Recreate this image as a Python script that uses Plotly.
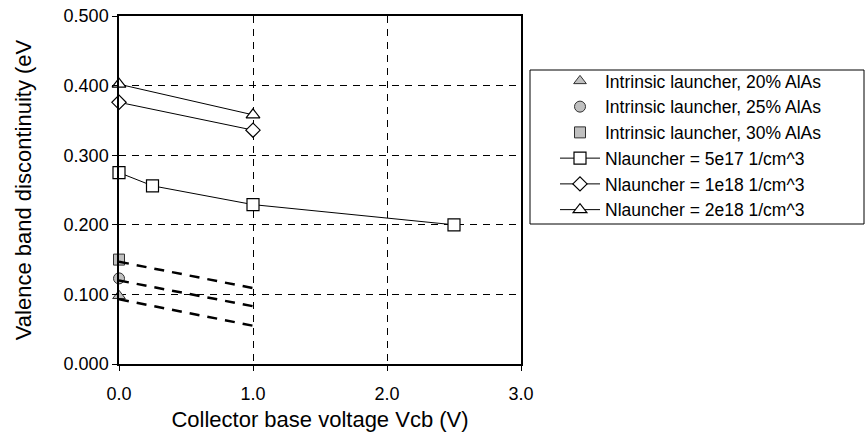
import plotly.graph_objects as go

# Intrinsic launcher points (x = Vcb, y = dEv)
intr_names = ["Intrinsic launcher, 20% AlAs", "Intrinsic launcher, 25% AlAs", "Intrinsic launcher, 30% AlAs"]
intr_x = [0.0]
intr_20 = [0.098]
intr_25 = [0.123]
intr_30 = [0.150]

# Dashed trend lines for intrinsic launchers
dash_x = [0.0, 1.0]
dash_20 = [0.093, 0.055]
dash_25 = [0.120, 0.083]
dash_30 = [0.147, 0.109]

# Doped launcher series
n5e17_x = [0.0, 0.25, 1.0, 2.5]
n5e17_y = [0.275, 0.256, 0.229, 0.200]
n1e18_x = [0.0, 1.0]
n1e18_y = [0.376, 0.336]
n2e18_x = [0.0, 1.0]
n2e18_y = [0.402, 0.358]

doped_names = ["Nlauncher = 5e17 1/cm^3", "Nlauncher = 1e18 1/cm^3", "Nlauncher = 2e18 1/cm^3"]

x_ticks = [0, 1, 2, 3]
y_ticks = [0.0, 0.1, 0.2, 0.3, 0.4, 0.5]

FONT = "Liberation Sans, Arial, sans-serif"
GRAY = "#c0c0c0"

fig = go.Figure()

for name, y, sym in zip(intr_names, [intr_20, intr_25, intr_30], ["triangle-up", "circle", "square"]):
    fig.add_trace(go.Scatter(
        x=intr_x, y=y, name=name, mode="markers", cliponaxis=False,
        marker=dict(symbol=sym, size=11, color=GRAY, line=dict(color="#303030", width=1)),
    ))

for (xs, ys, name, sym, sz) in [
    (n5e17_x, n5e17_y, doped_names[0], "square", 12),
    (n1e18_x, n1e18_y, doped_names[1], "diamond", 11),
    (n2e18_x, n2e18_y, doped_names[2], "triangle-up", 12),
]:
    fig.add_trace(go.Scatter(
        x=xs, y=ys, name=name, mode="lines+markers", cliponaxis=False,
        line=dict(color="black", width=1),
        marker=dict(symbol=sym, size=sz, color="white", line=dict(color="black", width=1.2)),
    ))

for ys in [dash_20, dash_25, dash_30]:
    fig.add_trace(go.Scatter(
        x=dash_x, y=ys, mode="lines", showlegend=False, cliponaxis=False,
        line=dict(color="black", width=2.5, dash="10px,8px"),
    ))

L, R, T, B = 119, 344, 16, 71
pw = 865 - L - R
ph = 435 - T - B

def px_x(p):
    return (p - L) / pw

def px_y(p):
    return (435 - B - p) / ph

fig.update_layout(
    width=865, height=435,
    margin=dict(l=L, r=R, t=T, b=B, pad=0, autoexpand=False),
    paper_bgcolor="white", plot_bgcolor="white",
    font=dict(family=FONT, color="black", size=18),
    showlegend=True,
    legend=dict(
        x=px_x(555), y=px_y(63), xanchor="left", yanchor="top",
        font=dict(family=FONT, size=17.5, color="black"),
        bgcolor="rgba(0,0,0,0)", borderwidth=0,
        tracegroupgap=0, itemwidth=40,
    ),
    xaxis=dict(
        range=[0, 3], tickvals=x_ticks, tickformat=".1f",
        automargin=False,
        showline=True, linecolor="black", linewidth=1.5, mirror=True,
        ticks="outside", ticklen=5, tickcolor="black", tickwidth=1,
        ticklabelstandoff=8,
        showgrid=True, gridcolor="black", gridwidth=1, griddash="7px,6px",
        zeroline=False,
        tickfont=dict(family=FONT, size=18, color="black"),
        title=dict(text="Collector base voltage Vcb (V)", font=dict(family=FONT, size=22, color="black"), standoff=8),
    ),
    yaxis=dict(
        range=[0, 0.5], tickvals=y_ticks, tickformat=".3f",
        automargin=False,
        showline=True, linecolor="black", linewidth=1.5, mirror=True,
        ticks="outside", ticklen=5, tickcolor="black", tickwidth=1,
        showgrid=True, gridcolor="black", gridwidth=1, griddash="7px,6px",
        zeroline=False,
        tickfont=dict(family=FONT, size=18, color="black"),
        title=dict(text="Valence band discontinuity (eV", font=dict(family=FONT, size=22, color="black"), standoff=26),
    ),
    shapes=[dict(
        type="rect", xref="paper", yref="paper",
        x0=px_x(530), x1=px_x(864), y0=px_y(224), y1=px_y(70),
        line=dict(color="black", width=1), fillcolor="rgba(0,0,0,0)", layer="above",
    )],
)

fig.write_html("out.html")
